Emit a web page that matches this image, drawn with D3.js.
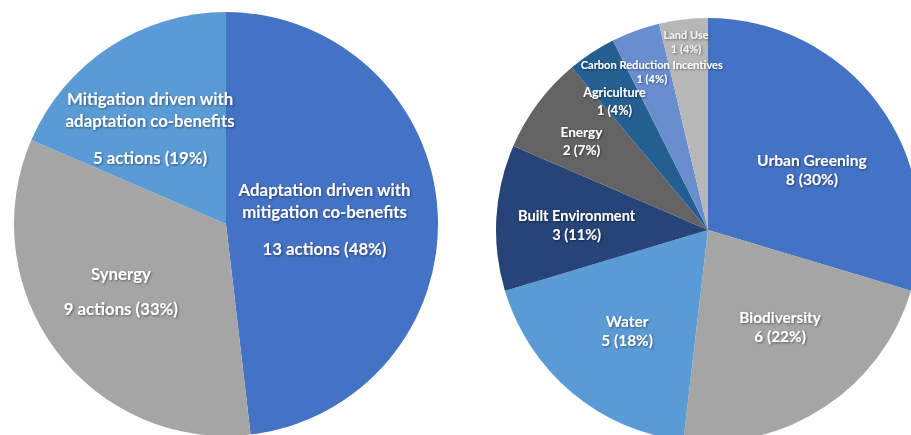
<!DOCTYPE html>
<html>
<head>
<meta charset="utf-8">
<script src="https://cdn.jsdelivr.net/npm/d3@7"></script>
<style>
  html, body { margin: 0; padding: 0; background: #ffffff; }
  svg { display: block; }
  text { font-family: Lato, "Open Sans", sans-serif; font-weight: 700; }
</style>
</head>
<body>
<script>
// Action types
const typeNames = [
  ["Adaptation driven with", "mitigation co-benefits"],
  ["Synergy"],
  ["Mitigation driven with", "adaptation co-benefits"]
];
const typeCounts = [13, 9, 5];
const typePercents = [48, 33, 19];

// Action sectors
const sectorNames = ["Urban Greening", "Biodiversity", "Water", "Built Environment",
  "Energy", "Agriculture", "Carbon Reduction Incentives", "Land Use"];
const sectorCounts = [8, 6, 5, 3, 2, 1, 1, 1];
const sectorPercents = [30, 22, 18, 11, 7, 4, 4, 4];

const W = 911, H = 435;
const svg = d3.select("body").append("svg").attr("width", W).attr("height", H);

const defs = svg.append("defs");
const f = defs.append("filter").attr("id", "shadow")
  .attr("x", "-20%").attr("y", "-40%").attr("width", "140%").attr("height", "180%");
f.append("feDropShadow").attr("dx", 1).attr("dy", 1).attr("stdDeviation", 0.9)
  .attr("flood-color", "#000").attr("flood-opacity", 0.45);

const pie = d3.pie().sort(null).value(d => d);
const rad = Math.PI / 180;

function drawPie(cfg) {
  const g = svg.append("g").attr("transform", `translate(${cfg.cx},${cfg.cy})`);
  const arcs = pie(cfg.values);
  const arc = d3.arc().innerRadius(0).outerRadius(cfg.r);
  g.selectAll("path.slice").data(arcs).join("path")
    .attr("class", "slice")
    .attr("d", arc)
    .attr("fill", (d, i) => cfg.colors[i]);

  // labels sit near each slice's mid-angle, nudged to best fit
  const labels = g.selectAll("g.lbl").data(arcs).join("g").attr("class", "lbl")
    .attr("filter", "url(#shadow)")
    .attr("transform", (d, i) => {
      const a = (d.startAngle + d.endAngle) / 2 + cfg.labelShift[i] * rad;
      const rr = cfg.r * cfg.labelRadius[i];
      return `translate(${rr * Math.sin(a)},${-rr * Math.cos(a)})`;
    });
  labels.each(function (d, i) {
    const lines = cfg.lines(i);
    const t = d3.select(this).append("text")
      .attr("text-anchor", "middle")
      .attr("fill", cfg.textColor ? cfg.textColor(i) : "#ffffff")
      .style("font-size", cfg.fontSize(i) + "px");
    const lh = cfg.lineHeight(i);
    const total = lines.slice(1).reduce((s, l) => s + (l.gap || lh), 0);
    let y = -total / 2;
    lines.forEach((l, k) => {
      if (k > 0) y += (l.gap || lh);
      t.append("tspan").attr("x", 0).attr("y", y).attr("dy", "0.35em").text(l.text);
    });
  });
}

const typeColors = ["#4472C4", "#A5A5A5", "#5B9BD5"];
drawPie({
  cx: 226, cy: 224, r: 212,
  values: typeCounts,
  colors: typeColors,
  labelRadius: [0.465, 0.589, 0.575],
  labelShift: [1.0, 4.0, -5.2],
  fontSize: () => 16.8,
  lineHeight: () => 21.5,
  lines: i => {
    const out = typeNames[i].map(t => ({ text: t }));
    out.push({ text: `${typeCounts[i]} actions (${typePercents[i]}%)`, gap: i === 1 ? 35 : 37.5 });
    return out;
  }
});

const sectorColors = ["#4472C4", "#A5A5A5", "#5B9BD5", "#264478",
  "#636363", "#255E91", "#698ED0", "#B7B7B7"];
drawPie({
  cx: 708, cy: 230, r: 212,
  values: sectorCounts,
  colors: sectorColors,
  labelRadius: [0.566, 0.57, 0.61, 0.62, 0.73, 0.75, 0.79, 0.89],
  labelShift: [6.7, -3.3, -1.3, -1.3, -1.5, -2.7, 0.4, 0],
  fontSize: i => [15.6, 15.4, 15.4, 14.6, 13.6, 12.6, 11.1, 11][i],
  lineHeight: i => [19, 19, 19, 19, 18, 18, 14, 14][i],
  textColor: i => i === 7 ? "#f2f2f2" : "#ffffff",
  lines: i => [{ text: sectorNames[i] }, { text: `${sectorCounts[i]} (${sectorPercents[i]}%)` }]
});
</script>
</body>
</html>
